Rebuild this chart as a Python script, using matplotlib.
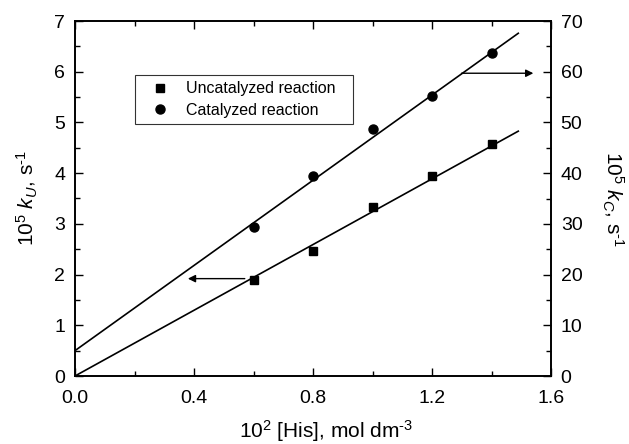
import numpy as np
import matplotlib
matplotlib.use('Agg')
import matplotlib.pyplot as plt
from matplotlib.ticker import MultipleLocator, FormatStrFormatter

plt.rcParams['font.family'] = ['Liberation Sans', 'DejaVu Sans']
plt.rcParams['mathtext.fontset'] = 'custom'
plt.rcParams['mathtext.rm'] = 'Liberation Sans'
plt.rcParams['mathtext.it'] = 'Liberation Sans:italic'
plt.rcParams['axes.unicode_minus'] = False

# data
his = [0.6, 0.8, 1.0, 1.2, 1.4]
k_unc = [1.90, 2.47, 3.33, 3.95, 4.57]     # left axis
k_cat = [29.3, 39.5, 48.8, 55.2, 63.6]     # right axis

# fitted lines (intercept, slope)
unc_fit = (0.0, 3.24)
cat_fit = (5.0, 42.0)
fit_x = [0.0, 1.49]

fig = plt.figure(figsize=(6.29, 4.44), dpi=100)
ax = fig.add_axes([75 / 629, 1 - 376 / 444, 476 / 629, 355 / 444])
ax2 = ax.twinx()

xs = np.array(fit_x)
ax.plot(xs, unc_fit[0] + unc_fit[1] * xs, color='black', lw=1.2)
ax2.plot(xs, cat_fit[0] + cat_fit[1] * xs, color='black', lw=1.2)

ax.plot(his, k_unc, 's', color='black', ms=5.5, label='Uncatalyzed reaction')
ax2.plot(his, k_cat, 'o', color='black', ms=6.5, label='Catalyzed reaction')

# arrows pointing to the matching axis
ax.annotate('', xy=(0.37, 1.92), xytext=(0.58, 1.92),
            arrowprops=dict(arrowstyle='-|>', color='black', lw=1, mutation_scale=11))
ax2.annotate('', xy=(1.55, 59.7), xytext=(1.29, 59.7),
             arrowprops=dict(arrowstyle='-|>', color='black', lw=1, mutation_scale=11))

ax.set_xlim(0, 1.6)
ax.set_ylim(0, 7)
ax2.set_ylim(0, 70)

ax.xaxis.set_major_locator(MultipleLocator(0.4))
ax.xaxis.set_minor_locator(MultipleLocator(0.2))
ax.yaxis.set_major_locator(MultipleLocator(1))
ax.yaxis.set_minor_locator(MultipleLocator(0.5))
ax2.yaxis.set_major_locator(MultipleLocator(10))
ax2.yaxis.set_minor_locator(MultipleLocator(5))
ax.xaxis.set_major_formatter(FormatStrFormatter('%.1f'))

ax.tick_params(axis='x', which='both', direction='in', top=True)
ax.tick_params(axis='x', which='major', pad=10)
ax.tick_params(axis='y', which='both', direction='in')
ax2.tick_params(axis='y', which='both', direction='in')
for a in (ax, ax2):
    a.tick_params(which='major', length=6, width=1, labelsize=14)
    a.tick_params(which='minor', length=3.5, width=1)
    a.tick_params(axis='y', which='major', pad=7)
    for s in a.spines.values():
        s.set_linewidth(1.2)

ax.set_xlabel(r'10$^2$ [His], mol dm$^{\text{-3}}$', fontsize=15)
ax.xaxis.set_label_coords(0.527, -0.118)
ax.set_ylabel(r'10$^5$ $k_U$, s$^{\text{-1}}$', fontsize=15, labelpad=10)
ax2.set_ylabel(r'10$^5$ $k_C$, s$^{\text{-1}}$', fontsize=15, rotation=270, labelpad=31)

h1, l1 = ax.get_legend_handles_labels()
h2, l2 = ax2.get_legend_handles_labels()
leg = ax2.legend(h1 + h2, l1 + l2, loc='upper left', mode='expand',
                 bbox_to_anchor=(0.126, 0.5, 0.458, 0.348),
                 fontsize=11.5, frameon=True, fancybox=False, edgecolor='black',
                 handlelength=2.3, handletextpad=0.5, borderpad=0.4, labelspacing=0.4,
                 borderaxespad=0)
leg.get_frame().set_linewidth(0.8)

fig.savefig('out.png', dpi=100)
